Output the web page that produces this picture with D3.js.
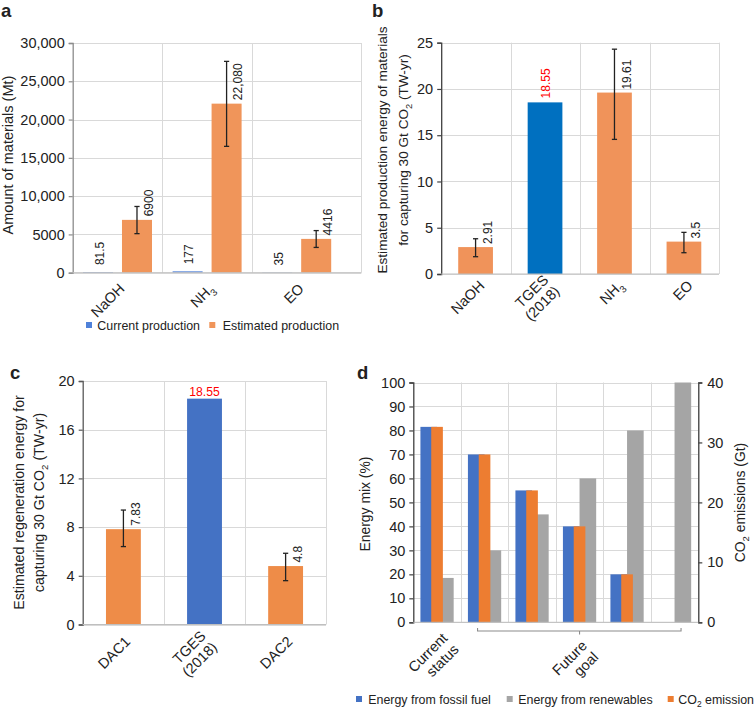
<!DOCTYPE html>
<html><head><meta charset="utf-8">
<script src="https://cdn.jsdelivr.net/npm/d3@7"></script>
<style>
body{margin:0;background:#fff}
svg text{font-family:"Liberation Sans",Arial,Helvetica,sans-serif}
</style></head>
<body><svg id="c" width="754" height="708"></svg>
<script>
// ---------- DATA ----------
// Panel a
const aCategories = ["NaOH", "NH{3}", "EO"];
const aCurrent = [81.5, 177, 35];
const aEstimated = [6900, 22080, 4416];
const aErrLow = [5100, 16500, 3300];
const aErrHigh = [8650, 27600, 5500];
const aCurrentLabels = ["81.5", "177", "35"];
const aEstimatedLabels = ["6900", "22,080", "4416"];
const aTicks = [0, 5000, 10000, 15000, 20000, 25000, 30000];
const aTickLabels = ["0", "5000", "10,000", "15,000", "20,000", "25,000", "30,000"];
const aSeries = ["Current production", "Estimated production"];

// Panel b
const bCategories = [["NaOH"], ["TGES", "(2018)"], ["NH{3}"], ["EO"]];
const bValues = [2.91, 18.55, 19.61, 3.5];
const bErrLow = [1.87, null, 14.55, 2.3];
const bErrHigh = [3.81, null, 24.3, 4.5];
const bLabels = ["2.91", "18.55", "19.61", "3.5"];
const bHighlight = [false, true, false, false];
const bTicks = [0, 5, 10, 15, 20, 25];

// Panel c
const cCategories = [["DAC1"], ["TGES", "(2018)"], ["DAC2"]];
const cValues = [7.83, 18.55, 4.8];
const cErrLow = [6.4, null, 3.6];
const cErrHigh = [9.4, null, 5.85];
const cLabels = ["7.83", "18.55", "4.8"];
const cHighlight = [false, true, false];
const cTicks = [0, 4, 8, 12, 16, 20];

// Panel d
const dCategories = ["s1", "s2", "s3", "s4", "s5", "s6"];
const dFossil = [81.5, 70, 55, 40, 20, 0];
const dRenewables = [18.5, 30, 45, 60, 80, 100];
const dCO2 = [32.6, 28, 22, 16, 8, 0];
const dGroupNames = [["Current", "status"], ["Future", "goal"]];
const dGroupStart = [0, 1];
const dGroupEnd = [0, 5];
const dLeftTicks = [0, 10, 20, 30, 40, 50, 60, 70, 80, 90, 100];
const dRightTicks = [0, 10, 20, 30, 40];
const dSeries = ["Energy from fossil fuel", "Energy from renewables", "CO{2} emission"];

// ---------- HELPERS ----------
const svg = d3.select("#c");
const GRID = "#d9d9d9", AX = "#404040", TXT = "#222";
const FS = 14.5;

function rich(t, str, fs) {
  const parts = str.split(/(\{[^}]*\})/).filter(s => s.length);
  let sh = 0;
  parts.forEach(p => {
    if (p[0] === "{") {
      t.append("tspan").attr("font-size", fs * 0.68).attr("dy", fs * 0.3).text(p.slice(1, -1));
      sh = fs * 0.3;
    } else {
      const s = t.append("tspan").text(p);
      if (sh) { s.attr("dy", -sh); sh = 0; }
    }
  });
  return t;
}
function T(g) { return g.append("text").style("fill", TXT); }
function rotLabel(g, lines, x, y, fs, lh) {
  const gg = g.append("g").attr("transform", `translate(${x},${y}) rotate(-45)`);
  const n = lines.length;
  lines.forEach((ln, i) => {
    const t = T(gg).attr("text-anchor", "end").attr("font-size", fs)
      .attr("y", (i - (n - 1) / 2) * lh);
    rich(t, ln, fs);
  });
}
function vTitle(g, lines, xs, yc, fs) {
  lines.forEach((ln, i) => {
    const t = T(g).attr("text-anchor", "middle").attr("font-size", fs)
      .attr("transform", `translate(${xs[i]},${yc}) rotate(-90)`);
    rich(t, ln, fs);
  });
}
function errBar(g, x, y1, y2, cap) {
  g.append("line").attr("x1", x).attr("x2", x).attr("y1", y1).attr("y2", y2)
    .attr("stroke", "#222").attr("stroke-width", 1.3);
  [y1, y2].forEach(yy => g.append("line").attr("x1", x - cap).attr("x2", x + cap)
    .attr("y1", yy).attr("y2", yy).attr("stroke", "#222").attr("stroke-width", 1.3));
}
function vLabel(g, str, xc, ybottom, fs, color) {
  g.append("text").attr("font-size", fs).style("fill", color || TXT)
    .attr("transform", `translate(${xc + fs * 0.36},${ybottom}) rotate(-90)`)
    .text(str);
}
function panelLabel(s, x, y) {
  T(svg).attr("x", x).attr("y", y).attr("font-size", 18.5)
    .attr("font-weight", "bold").text(s);
}
function grid(g, L, R, bounds, y, ticks) {
  const [y0, yTop] = y.range();
  ticks.forEach(t => g.append("line").attr("x1", L).attr("x2", R)
    .attr("y1", Math.round(y(t)) + 0.5).attr("y2", Math.round(y(t)) + 0.5)
    .attr("stroke", GRID));
  bounds.forEach(b => {
    const xx = Math.round(b) + 0.5;
    g.append("line").attr("x1", xx).attr("x2", xx).attr("y1", yTop).attr("y2", y0)
      .attr("stroke", GRID);
  });
}
function catBounds(xCat) {
  return xCat.domain().map((d, i) => xCat.range()[0] + (i + 1) * xCat.step());
}
function leftAxis(g, y, x, ticks, fmt, color, fs) {
  const ax = g.append("g").attr("transform", `translate(${x},0)`)
    .call(d3.axisLeft(y).tickValues(ticks).tickFormat(fmt).tickSize(4).tickPadding(4));
  ax.select(".domain").attr("stroke", color).attr("stroke-width", 1.3);
  ax.selectAll(".tick line").attr("stroke", color).attr("stroke-width", 1.2);
  ax.selectAll(".tick text").attr("font-size", fs).style("fill", TXT)
    .attr("font-family", '"Liberation Sans",Arial,sans-serif');
  return ax;
}

// ---------- PANEL A ----------
(function () {
  const g = svg.append("g");
  const idx = aCategories.map((d, i) => i);
  const xCat = d3.scaleBand().domain(idx).range([72.7, 341.5]).padding(0);
  const xSub = d3.scaleBand().domain(aSeries).range([xCat.step() * 0.115, xCat.step() * 0.885]).paddingInner(0.23);
  const y = d3.scaleLinear().domain([0, 30000]).range([272.7, 43]);
  const b = catBounds(xCat); b[b.length - 1] = 361.3;
  grid(g, 72.7, 361.3, b, y, aTicks);
  const colors = ["#4f81d9", "#f0955a"];
  const vals = [aCurrent, aEstimated];
  vals.forEach((arr, s) => {
    g.selectAll(null).data(arr).enter().append("rect")
      .attr("x", (d, i) => xCat(i) + xSub(aSeries[s]))
      .attr("width", xSub.bandwidth())
      .attr("y", d => y(d)).attr("height", d => y(0) - y(d))
      .attr("fill", colors[s]);
  });
  aEstimated.forEach((v, i) => {
    const cx = xCat(i) + xSub(aSeries[1]) + xSub.bandwidth() / 2;
    errBar(g, cx, y(aErrHigh[i]), y(aErrLow[i]), 2.6);
    vLabel(g, aEstimatedLabels[i], cx + 11.4, y(v) - 3.5, 12);
  });
  aCurrent.forEach((v, i) => {
    const cx = xCat(i) + xSub(aSeries[0]) + xSub.bandwidth() / 2;
    vLabel(g, aCurrentLabels[i], cx + 1.5, y(v) - 7, 12);
  });
  leftAxis(g, y, 72.7, aTicks, (d, i) => aTickLabels[i], "#8c8c8c", FS);
  g.append("line").attr("x1", 72.7).attr("x2", 361.3).attr("y1", 272.7).attr("y2", 272.7).attr("stroke", "#bfbfbf");
  aCategories.forEach((c, i) => rotLabel(g, [c], xCat(i) + xCat.step() / 2 + 8, 272.7 + 17, FS, 16));
  vTitle(g, ["Amount of materials (Mt)"], [12.8], 155, FS);
  const lx = [86, 209.3], tx = [97.3, 222.7];
  aSeries.forEach((s, i) => {
    g.append("rect").attr("x", lx[i]).attr("y", 322).attr("width", 6).attr("height", 6).attr("fill", colors[i]);
    T(g).attr("x", tx[i]).attr("y", 329.6).attr("font-size", 12.4).text(s);
  });
  panelLabel("a", 1, 17);
})();

// ---------- PANEL B ----------
(function () {
  const g = svg.append("g");
  const idx = bValues.map((d, i) => i);
  const xCat = d3.scaleBand().domain(idx).range([441.2, 719]).padding(0);
  const y = d3.scaleLinear().domain([0, 25]).range([274, 42.7]);
  grid(g, 441.2, 719, catBounds(xCat), y, bTicks);
  const pad = 0.245, bw = xCat.step() * 0.5;
  bValues.forEach((v, i) => {
    const x0 = xCat(i) + xCat.step() * pad;
    const cx = x0 + bw / 2;
    g.append("rect").attr("x", x0).attr("width", bw).attr("y", y(v)).attr("height", y(0) - y(v))
      .attr("fill", bHighlight[i] ? "#0070c0" : "#f0935a");
    if (bErrLow[i] != null) {
      errBar(g, cx, y(bErrHigh[i]), y(bErrLow[i]), 2.6);
      vLabel(g, bLabels[i], cx + 12, y(v) - 3, 12);
    } else {
      vLabel(g, bLabels[i], cx + 0.5, y(v) - 4, 12, "#ff0000");
    }
  });
  leftAxis(g, y, 441.2, bTicks, d3.format("d"), AX, FS);
  g.append("line").attr("x1", 441.2).attr("x2", 719).attr("y1", 274).attr("y2", 274).attr("stroke", "#bfbfbf");
  bCategories.forEach((c, i) => rotLabel(g, c, xCat(i) + xCat.step() / 2 + 9.5, 274 + 12.5, FS, 16));
  vTitle(g, ["Estimated production energy of materials", "for capturing 30 Gt CO{2} (TW-yr)"], [386.7, 408], 150, 13.6);
  panelLabel("b", 372, 17);
})();

// ---------- PANEL C ----------
(function () {
  const g = svg.append("g");
  const idx = cValues.map((d, i) => i);
  const xCat = d3.scaleBand().domain(idx).range([82.7, 326]).padding(0);
  const y = d3.scaleLinear().domain([0, 20]).range([624.5, 381]);
  grid(g, 82.7, 326, catBounds(xCat), y, cTicks);
  const pad = 0.287, bw = xCat.step() * 0.43;
  cValues.forEach((v, i) => {
    const x0 = xCat(i) + xCat.step() * pad;
    const cx = x0 + bw / 2;
    g.append("rect").attr("x", x0).attr("width", bw).attr("y", y(v)).attr("height", y(0) - y(v))
      .attr("fill", cHighlight[i] ? "#4472c4" : "#ee8c48");
    if (cErrLow[i] != null) {
      errBar(g, cx, y(cErrHigh[i]), y(cErrLow[i]), 2.6);
      vLabel(g, cLabels[i], cx + 12, y(v) - 3.5, 12);
    } else {
      g.append("text").attr("x", cx).attr("y", y(v) - 2.6).attr("text-anchor", "middle")
        .attr("font-size", 12.2).style("fill", "#ff0000").text(cLabels[i]);
    }
  });
  leftAxis(g, y, 82.7, cTicks, d3.format("d"), "#595959", FS);
  g.append("line").attr("x1", 82.7).attr("x2", 326).attr("y1", 624.5).attr("y2", 624.5).attr("stroke", "#bfbfbf");
  cCategories.forEach((c, i) => rotLabel(g, c, xCat(i) + xCat.step() / 2 + 8, 624.5 + 18, FS, 16));
  vTitle(g, ["Estimated regeneration energy for", "capturing 30 Gt CO{2} (TW-yr)"], [23.5, 43.5], 502.5, 14.2);
  panelLabel("c", 10, 379);
})();

// ---------- PANEL D ----------
(function () {
  const g = svg.append("g");
  const xCat = d3.scaleBand().domain(dCategories).range([413.3, 698.3]).paddingInner(0.3).paddingOuter(0.15);
  const xGrid = d3.scaleBand().domain(dCategories).range([413.3, 698.3]).padding(0);
  const xSub = d3.scaleBand().domain(["fossil", "renew"]).range([0, xCat.bandwidth()]);
  const yL = d3.scaleLinear().domain([0, 100]).range([622.3, 382.5]);
  const yR = d3.scaleLinear().domain([0, 40]).range([622.3, 382.5]);
  grid(g, 413.3, 698.3, catBounds(xGrid), yL, dLeftTicks);
  const cFossil = "#4472c4", cRenew = "#a5a5a5", cCO2 = "#ed7d31";
  g.selectAll(null).data(dFossil).enter().append("rect")
    .attr("x", (d, i) => xCat(dCategories[i]) + xSub("fossil")).attr("width", xSub.bandwidth())
    .attr("y", d => yL(d)).attr("height", d => yL(0) - yL(d)).attr("fill", cFossil);
  g.selectAll(null).data(dRenewables).enter().append("rect")
    .attr("x", (d, i) => xCat(dCategories[i]) + xSub("renew")).attr("width", xSub.bandwidth())
    .attr("y", d => yL(d)).attr("height", d => yL(0) - yL(d)).attr("fill", cRenew);
  const ow = xCat.bandwidth() * 0.35;
  g.selectAll(null).data(dCO2).enter().append("rect")
    .attr("x", (d, i) => xCat(dCategories[i]) + xCat.bandwidth() / 2 - ow / 2).attr("width", ow)
    .attr("y", d => yR(d)).attr("height", d => yR(0) - yR(d)).attr("fill", cCO2);
  leftAxis(g, yL, 413.3, dLeftTicks, d3.format("d"), AX, FS);
  const ra = g.append("g").attr("transform", "translate(698.3,0)")
    .call(d3.axisRight(yR).tickValues(dRightTicks).tickFormat(d3.format("d")).tickSize(4).tickPadding(5));
  ra.select(".domain").attr("stroke", AX).attr("stroke-width", 1.3);
  ra.selectAll(".tick line").attr("stroke", AX).attr("stroke-width", 1.2);
  ra.selectAll(".tick text").attr("font-size", FS).style("fill", TXT).attr("font-family", '"Liberation Sans",Arial,sans-serif');
  g.append("line").attr("x1", 413.3).attr("x2", 698.3).attr("y1", 622.3).attr("y2", 622.3).attr("stroke", "#bfbfbf");
  dGroupNames.forEach((nm, k) => {
    const c0 = xCat(dCategories[dGroupStart[k]]) + xCat.bandwidth() / 2;
    const c1 = xCat(dCategories[dGroupEnd[k]]) + xCat.bandwidth() / 2;
    const cx = (c0 + c1) / 2;
    if (dGroupEnd[k] > dGroupStart[k]) {
      const by = 631;
      g.append("path").attr("d", `M${c0 - 7},${by - 3}L${c0 - 7},${by}L${c1 + 6.5},${by}L${c1 + 6.5},${by - 3}M${cx},${by}L${cx},${by + 3.5}`)
        .attr("fill", "none").attr("stroke", "#8c8c8c").attr("stroke-width", 1.1);
      rotLabel(g, nm, cx + 14, 622.3 + 30, FS, 16);
    } else {
      rotLabel(g, nm, cx + 17, 622.3 + 22.4, FS, 16);
    }
  });
  vTitle(g, ["Energy mix (%)"], [370], 504, 13.9);
  const rt = T(g).attr("text-anchor", "middle").attr("font-size", 13.9)
    .attr("transform", "translate(745,502.5) rotate(-90)");
  rich(rt, "CO{2} emissions (Gt)", 13.9);
  const lcol = [cFossil, cRenew, cCO2], lx = [356, 506.7, 667.7], tx = [368.3, 518.3, 678.3];
  dSeries.forEach((s, i) => {
    g.append("rect").attr("x", lx[i]).attr("y", 696).attr("width", 6).attr("height", 6).attr("fill", lcol[i]);
    const t = T(g).attr("x", tx[i]).attr("y", 703.6).attr("font-size", 12.4);
    rich(t, s, 12.4);
  });
  panelLabel("d", 357, 379);
})();
</script></body></html>
